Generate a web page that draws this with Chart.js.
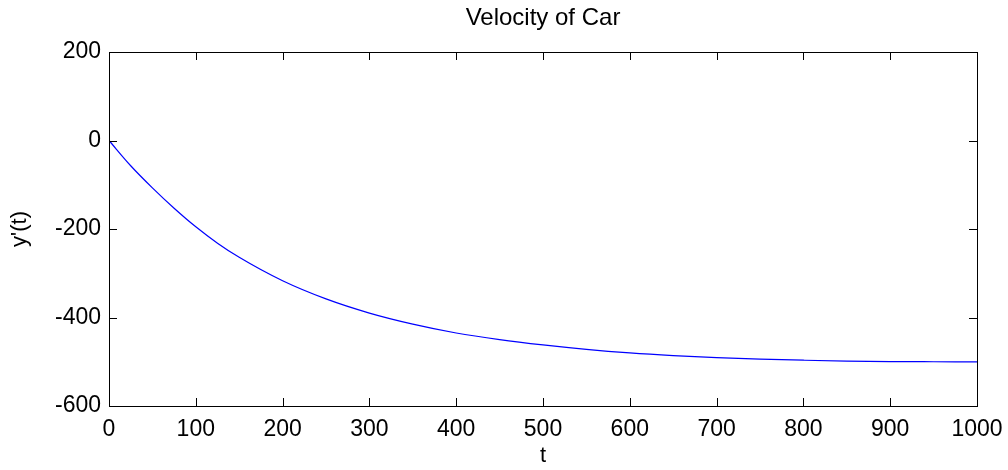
<!DOCTYPE html>
<html lang="en">
<head>
<meta charset="utf-8">
<title>Velocity of Car</title>
<script src="https://cdn.jsdelivr.net/npm/chart.js@4.4.1/dist/chart.umd.min.js"></script>
<style>
    html, body { margin: 0; padding: 0; background: #fff; }
    #velocity-chart { display: block; }
</style>
</head>
<body>
<canvas id="velocity-chart" width="1008" height="470"></canvas>
<script>
// time t and velocity y'(t)
const timeValues = [0, 25, 50, 75, 100, 125, 150, 200, 250, 300, 350, 400, 450, 500,
    550, 600, 650, 700, 750, 800, 850, 900, 950, 1000];
const velocityValues = [0, -57, -107, -153, -195, -232, -264, -317, -358, -390, -415, -435, -450, -462,
    -472, -480, -486, -490.5, -494, -496.5, -498.5, -499.5, -500, -500.5];

const xTickValues = [0, 100, 200, 300, 400, 500, 600, 700, 800, 900, 1000];
const yTickValues = [-600, -400, -200, 0, 200];

const FONT_FAMILY = '"Liberation Sans", Arial, Helvetica, sans-serif';

// box around the plot area with inward tick marks on all four sides
const boxTicksPlugin = {
    id: 'boxTicks',
    afterDatasetsDraw(chart) {
        const { ctx, chartArea: area, scales: { x, y } } = chart;
        const len = 8;

        ctx.save();
        ctx.strokeStyle = '#000';
        ctx.lineWidth = 1;
        ctx.beginPath();
        xTickValues.forEach(v => {
            const px = Math.round(x.getPixelForValue(v)) + 0.5;
            ctx.moveTo(px, area.bottom);
            ctx.lineTo(px, area.bottom - len);
            ctx.moveTo(px, area.top);
            ctx.lineTo(px, area.top + len);
        });
        yTickValues.forEach(v => {
            const py = Math.round(y.getPixelForValue(v)) + 0.5;
            ctx.moveTo(area.left, py);
            ctx.lineTo(area.left + len, py);
            ctx.moveTo(area.right, py);
            ctx.lineTo(area.right - len, py);
        });
        ctx.stroke();
        ctx.strokeRect(Math.round(area.left) + 0.5, Math.round(area.top) + 0.5,
            Math.round(area.width), Math.round(area.height));
        ctx.restore();
    }
};

const ctx = document.getElementById('velocity-chart').getContext('2d');

new Chart(ctx, {
    type: 'line',
    data: {
        labels: timeValues,
        datasets: [{
            label: "y'(t)",
            data: timeValues.map((t, i) => ({ x: t, y: velocityValues[i] })),
            borderColor: 'rgb(0, 0, 255)',
            borderWidth: 1.2,
            pointRadius: 0,
            fill: false,
            cubicInterpolationMode: 'monotone'
        }]
    },
    options: {
        responsive: false,
        animation: false,
        layout: {
            padding: { left: 0, right: 31, top: 0, bottom: 0 }
        },
        plugins: {
            legend: { display: false },
            tooltip: { enabled: false },
            title: {
                display: true,
                fullSize: false,
                text: 'Velocity of Car',
                color: '#000',
                font: { family: FONT_FAMILY, size: 24, weight: 'normal' },
                padding: { top: 4, bottom: 19.2 }
            }
        },
        scales: {
            x: {
                type: 'linear',
                min: 0,
                max: 1000,
                afterFit: (scale) => {
                    scale.height = 64;
                    scale.paddingLeft = 0;
                    scale.paddingRight = 0;
                },
                afterBuildTicks: (scale) => {
                    scale.ticks = xTickValues.map(v => ({ value: v }));
                },
                grid: { display: false, drawTicks: false },
                border: { display: false },
                ticks: {
                    color: '#000',
                    padding: 10,
                    maxRotation: 0,
                    font: { family: FONT_FAMILY, size: 23 },
                    callback: (value) => String(value)
                },
                title: {
                    display: true,
                    text: 't',
                    color: '#000',
                    font: { family: FONT_FAMILY, size: 22 },
                    padding: { top: 0, bottom: 1 }
                }
            },
            y: {
                type: 'linear',
                min: -600,
                max: 200,
                afterFit: (scale) => {
                    scale.width = 109;
                },
                afterBuildTicks: (scale) => {
                    scale.ticks = yTickValues.map(v => ({ value: v }));
                },
                grid: { display: false, drawTicks: false },
                border: { display: false },
                ticks: {
                    color: '#000',
                    padding: 8,
                    font: { family: FONT_FAMILY, size: 23 },
                    callback: (value) => String(value)
                },
                title: {
                    display: true,
                    text: "y'(t)",
                    color: '#000',
                    font: { family: FONT_FAMILY, size: 22 },
                    padding: { top: 7, bottom: 0 }
                }
            }
        }
    },
    plugins: [boxTicksPlugin]
});
</script>
</body>
</html>
